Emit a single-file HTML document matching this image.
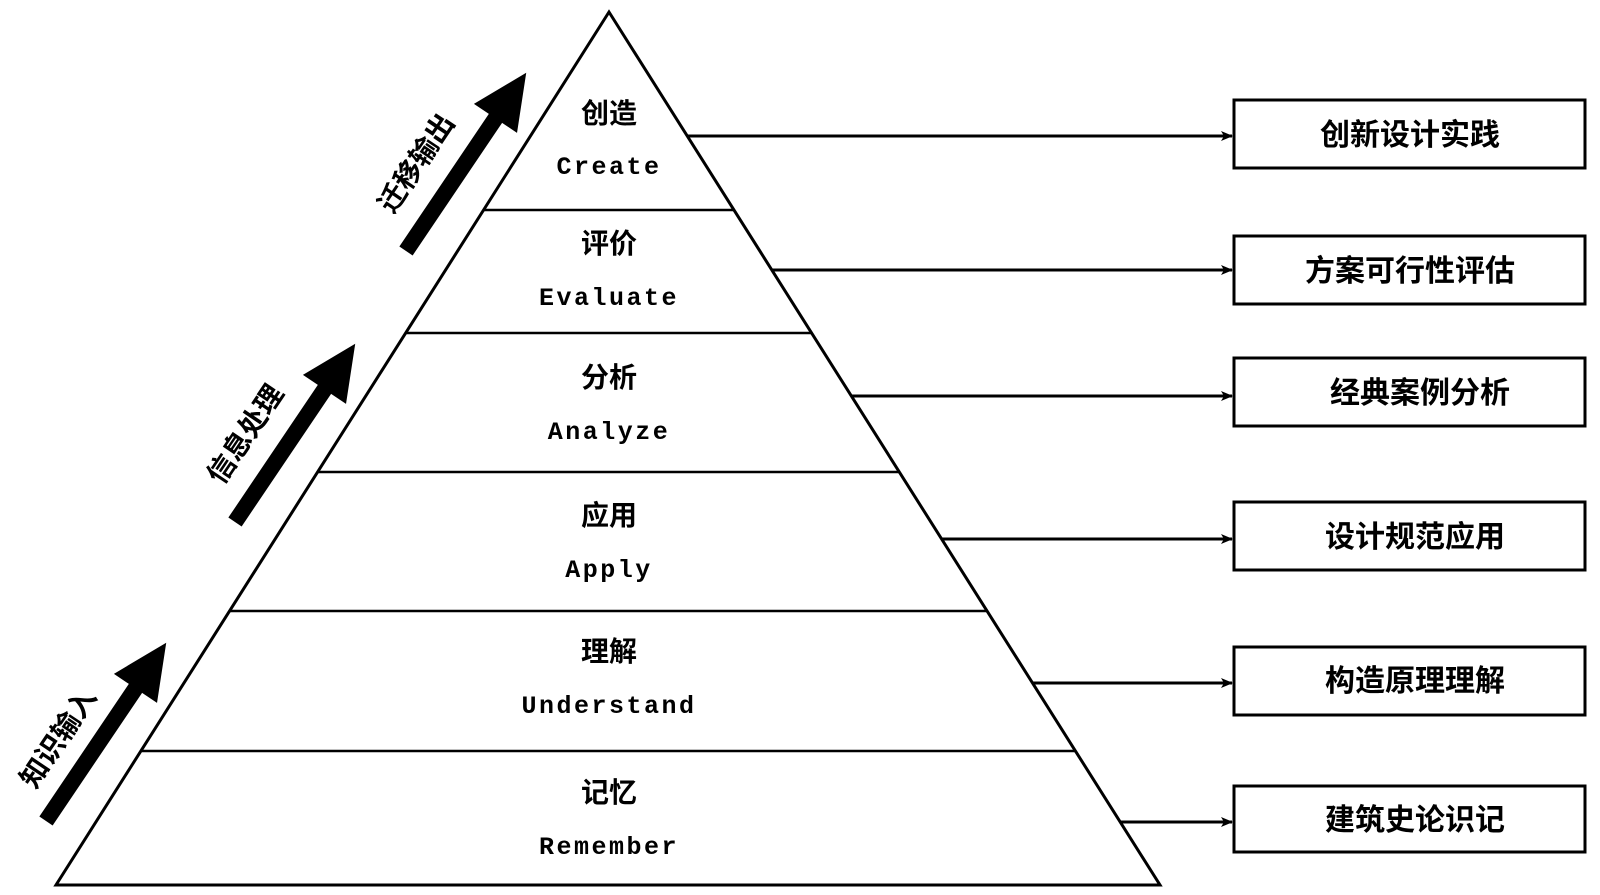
<!DOCTYPE html>
<html><head><meta charset="utf-8"><style>
html,body{margin:0;padding:0;background:#fff;}
svg{display:block;}
.cn{font-family:"Liberation Sans","Noto Sans CJK SC",sans-serif;font-weight:bold;font-size:28px;fill:#000;}
.en{font-family:"Liberation Mono","DejaVu Sans Mono",monospace;font-weight:bold;font-size:25px;letter-spacing:2.5px;fill:#000;}
.bx{font-family:"Liberation Sans","Noto Sans CJK SC",sans-serif;font-weight:bold;font-size:30px;fill:#000;}
</style></head><body>
<svg width="1600" height="895" viewBox="0 0 1600 895" xmlns="http://www.w3.org/2000/svg">
<defs>
<marker id="ah" markerWidth="12" markerHeight="10" refX="11" refY="5" orient="auto" markerUnits="userSpaceOnUse">
<path d="M0,0 L12,5 L0,10 L3,5 Z" fill="#000"/></marker>
<g id="bigarrow"><path d="M-8,0 L-8,-160 L-26,-160 L0,-215 L26,-160 L8,-160 L8,0 Z" fill="#000"/></g>
</defs>
<polygon points="609,12 56,885 1160,885" fill="none" stroke="#000" stroke-width="3"/>
<g stroke="#000" stroke-width="2.5">
<line x1="484" y1="210" x2="734" y2="210"/>
<line x1="406" y1="333" x2="812" y2="333"/>
<line x1="318" y1="472" x2="900" y2="472"/>
<line x1="230" y1="611" x2="988" y2="611"/>
<line x1="141" y1="751" x2="1076" y2="751"/>
</g>
<g text-anchor="middle">
<text class="cn" x="609" y="123">创造</text><text class="en" x="609" y="174">Create</text>
<text class="cn" x="609" y="253">评价</text><text class="en" x="609" y="305">Evaluate</text>
<text class="cn" x="609" y="387">分析</text><text class="en" x="609" y="439">Analyze</text>
<text class="cn" x="609" y="525">应用</text><text class="en" x="609" y="577">Apply</text>
<text class="cn" x="609" y="661">理解</text><text class="en" x="609" y="713">Understand</text>
<text class="cn" x="609" y="802">记忆</text><text class="en" x="609" y="854">Remember</text>
</g>
<g stroke="#000" stroke-width="3" marker-end="url(#ah)">
<line x1="687" y1="136" x2="1232" y2="136"/>
<line x1="772" y1="270" x2="1232" y2="270"/>
<line x1="852" y1="396" x2="1232" y2="396"/>
<line x1="942" y1="539" x2="1232" y2="539"/>
<line x1="1033" y1="683" x2="1232" y2="683"/>
<line x1="1121" y1="822" x2="1232" y2="822"/>
</g>
<g fill="#fff" stroke="#000" stroke-width="3">
<rect x="1234" y="100" width="351" height="68"/>
<rect x="1234" y="236" width="351" height="68"/>
<rect x="1234" y="358" width="351" height="68"/>
<rect x="1234" y="502" width="351" height="68"/>
<rect x="1234" y="647" width="351" height="68"/>
<rect x="1234" y="786" width="351" height="66"/>
</g>
<g text-anchor="middle">
<text class="bx" x="1410" y="145">创新设计实践</text>
<text class="bx" x="1410" y="281">方案可行性评估</text>
<text class="bx" x="1420" y="403">经典案例分析</text>
<text class="bx" x="1415" y="547">设计规范应用</text>
<text class="bx" x="1415" y="691">构造原理理解</text>
<text class="bx" x="1415" y="830">建筑史论识记</text>
</g>
<use href="#bigarrow" transform="translate(46,821) rotate(34)"/>
<use href="#bigarrow" transform="translate(235,522) rotate(34)"/>
<use href="#bigarrow" transform="translate(406,251) rotate(34)"/>
<g text-anchor="middle" class="cn">
<text x="0" y="10" transform="translate(58,738) rotate(-56)">知识输入</text>
<text x="0" y="10" transform="translate(245,434) rotate(-56)">信息处理</text>
<text x="0" y="10" transform="translate(416,163) rotate(-56)">迁移输出</text>
</g>
</svg>
</body></html>
